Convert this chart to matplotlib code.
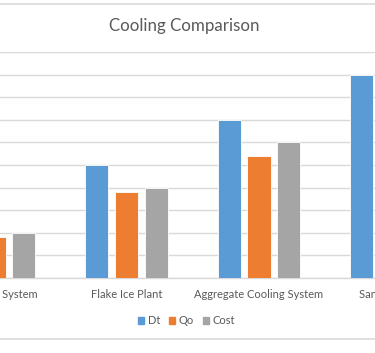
import matplotlib
matplotlib.use('Agg')
from matplotlib import pyplot as plt
from matplotlib.lines import Line2D
import numpy as np

categories = ['Ice Water System', 'Flake Ice Plant', 'Aggregate Cooling System', 'Sand Cooling']
dt = [2.8, 5.0, 7.0, 9.0]
qo = [1.8, 3.8, 5.4, 6.6]
cost = [2.0, 4.0, 6.0, 7.2]
series_names = ['Dt', 'Qo', 'Cost']
colors = ['#5B9BD5', '#ED7D31', '#A5A5A5']

plt.rcParams['font.family'] = ['Lato', 'DejaVu Sans']
text_color = '#595959'

fig = plt.figure(figsize=(3.75, 3.53), dpi=100)
W, H = 375, 353
# plot area is wider than the picture: the screenshot is cropped left and right
x_left = -72.25
x_right = 457.75
y_base = 278
y_top = 52
ax = fig.add_axes([x_left / W, (H - y_base) / H, (x_right - x_left) / W, (y_base - y_top) / H])

x = np.arange(len(categories))
bw = 0.174
step = 0.226
for i, (vals, name, c) in enumerate(zip([dt, qo, cost], series_names, colors)):
    ax.bar(x + (i - 1) * step, vals, width=bw, color=c, edgecolor='white', linewidth=0.6,
           label=name, zorder=3)

ax.set_xlim(-0.5, 3.5)
ax.set_ylim(0, 10)
ax.set_yticks(range(0, 11))
ax.yaxis.grid(True, color='#D9D9D9', linewidth=1.0, zorder=0)
ax.tick_params(axis='y', left=False, labelleft=False)
ax.set_xticks(x)
ax.set_xticklabels(categories, fontsize=8, color=text_color)
ax.tick_params(axis='x', length=0, pad=8)
for side in ['left', 'right', 'top']:
    ax.spines[side].set_visible(False)
ax.spines['bottom'].set_color('#D9D9D9')
ax.spines['bottom'].set_linewidth(1.0)

fig.text(184.5 / W, 1 - 26 / H, 'Cooling Comparison', ha='center', va='center',
         fontsize=12.2, color=text_color)

handles = [plt.Rectangle((0, 0), 1, 1, color=c) for c in colors]
fig.legend(handles, series_names, loc='center', bbox_to_anchor=(186.5 / W, 1 - 321 / H),
           ncol=3, frameon=False, fontsize=8, handlelength=0.55, handleheight=0.55,
           handletextpad=0.3, columnspacing=0.8, labelcolor=text_color)

# chart border lines (cropped outer frame)
for yp in [4, 339]:
    fig.add_artist(Line2D([0, 1], [1 - yp / H, 1 - yp / H], color='#D9D9D9', linewidth=1.2,
                          transform=fig.transFigure))

fig.savefig('out.png', dpi=100)
